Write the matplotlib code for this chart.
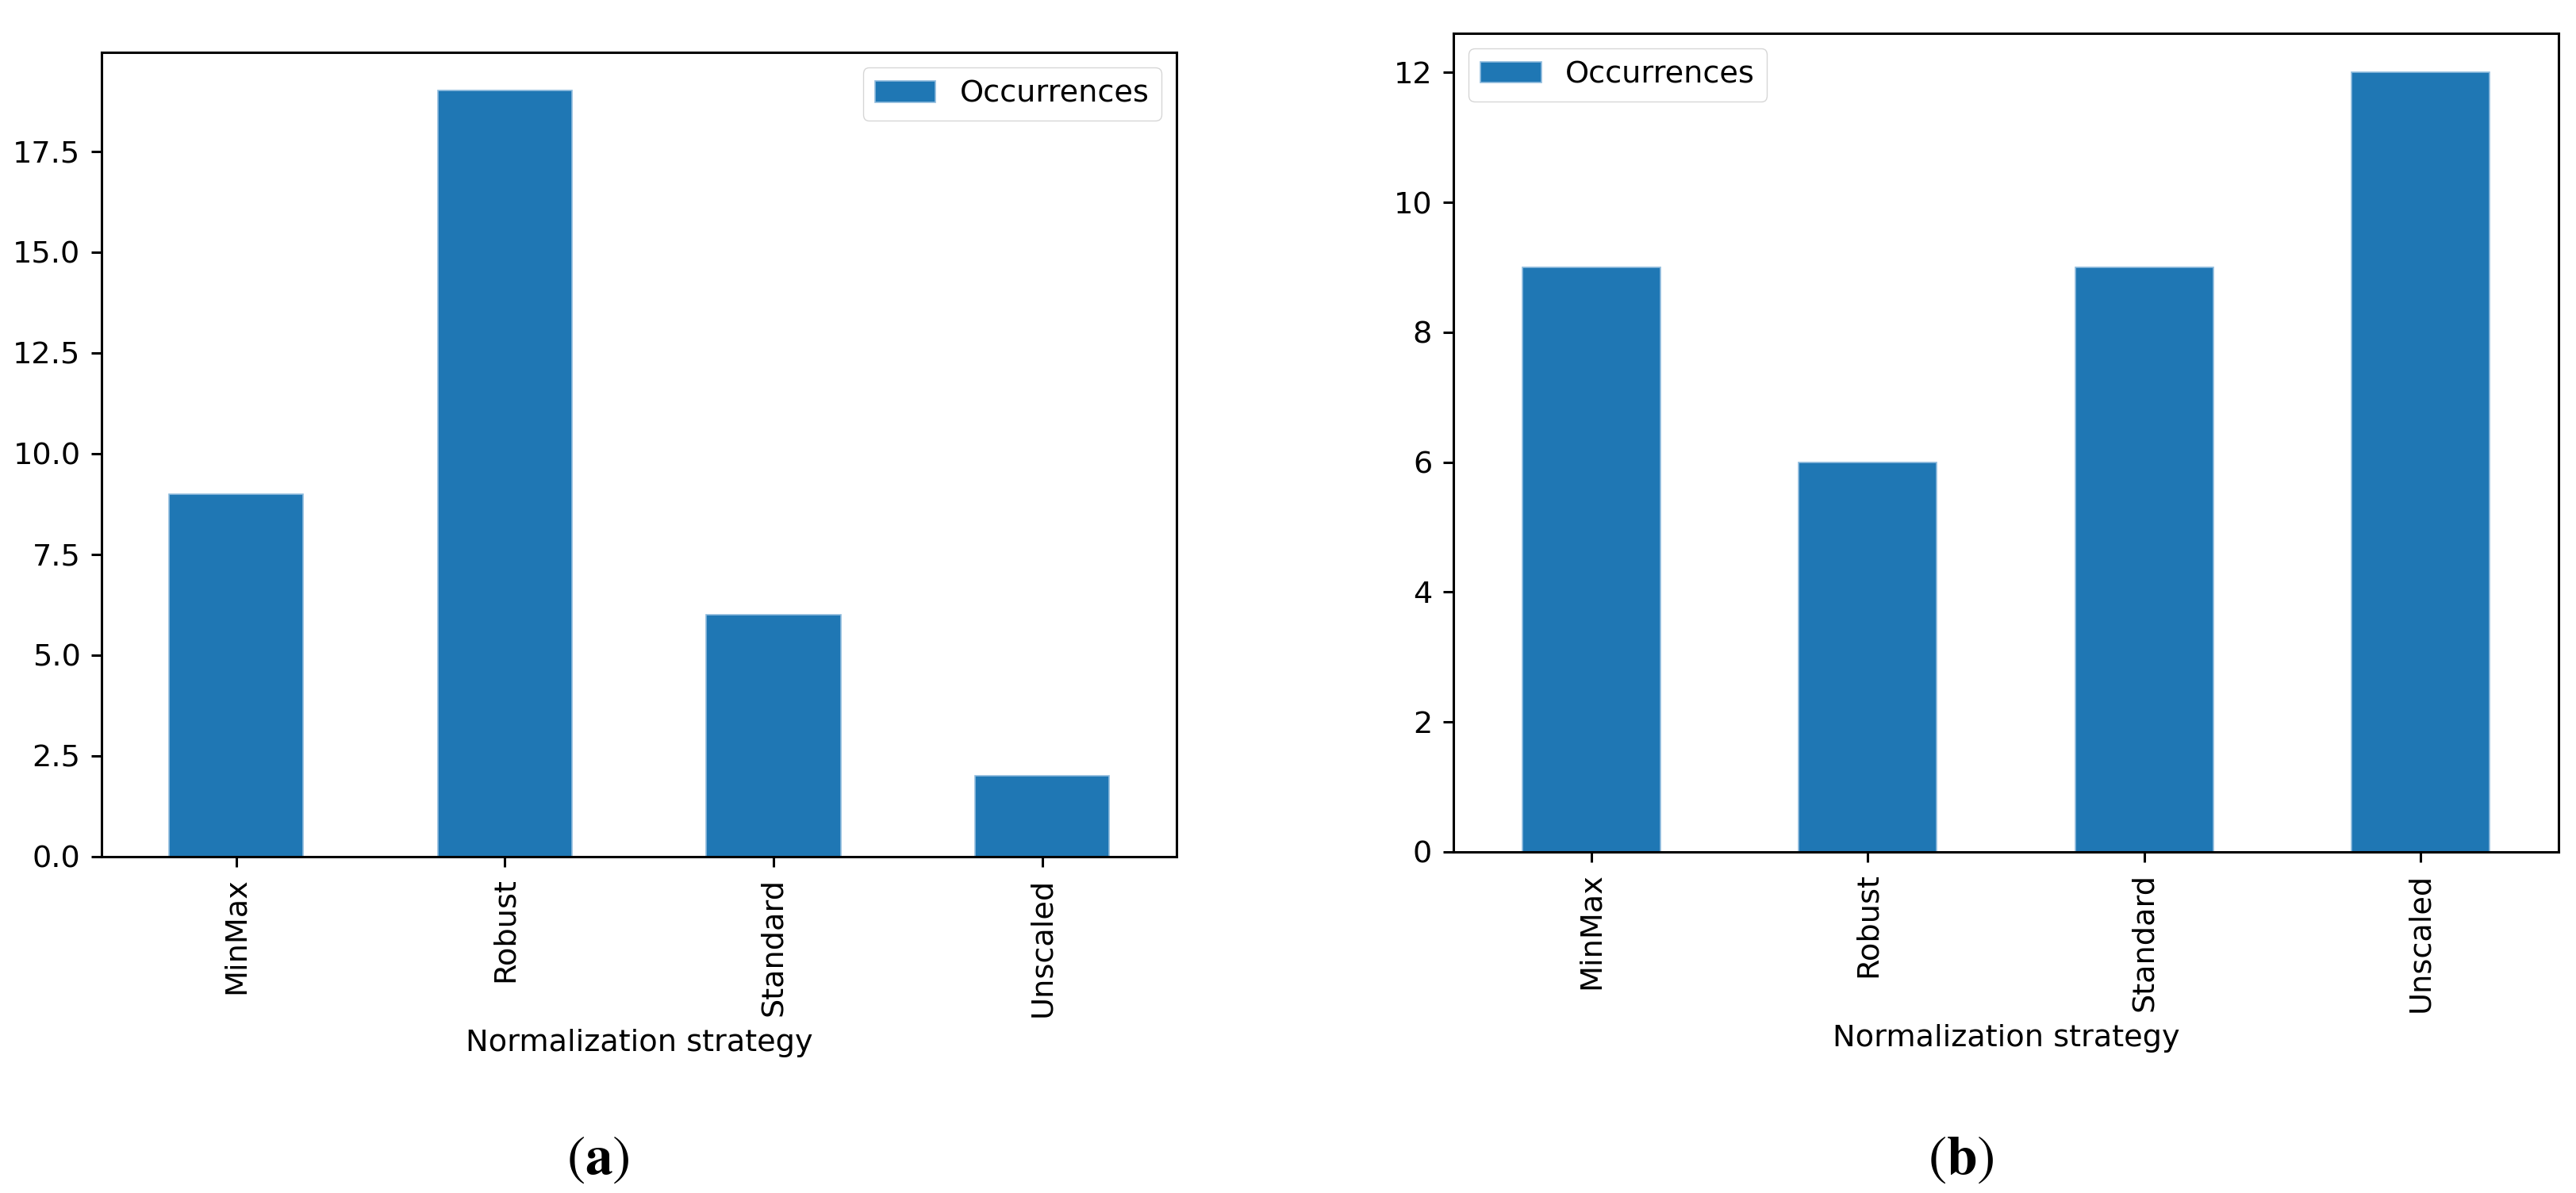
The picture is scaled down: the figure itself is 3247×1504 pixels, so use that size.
import matplotlib
matplotlib.use("Agg")
import matplotlib.pyplot as plt
import numpy as np

strategies = ["MinMax", "Robust", "Standard", "Unscaled"]
occ_a = [9, 19, 6, 2]
occ_b = [9, 6, 9, 12]

s = 2.75  # scale from default matplotlib size
plt.rcParams['font.family'] = ['DejaVu Sans']
plt.rcParams['font.size'] = 10 * s
plt.rcParams['axes.linewidth'] = 0.8 * s
plt.rcParams['xtick.major.width'] = 0.8 * s
plt.rcParams['ytick.major.width'] = 0.8 * s
plt.rcParams['xtick.major.size'] = 3.5 * s
plt.rcParams['ytick.major.size'] = 3.5 * s
plt.rcParams['xtick.major.pad'] = 3.5 * s
plt.rcParams['ytick.major.pad'] = 3.5 * s
plt.rcParams['mathtext.fontset'] = 'stix'

fig = plt.figure(figsize=(32.48, 15.04), dpi=100)
ax1 = fig.add_axes([0.0395, 0.282, 0.4171, 0.674])
ax2 = fig.add_axes([0.564, 0.286, 0.429, 0.686])

def draw(ax, vals, loc):
    x = np.arange(len(strategies))
    ax.bar(x, vals, width=0.5, color="#1f77b4", edgecolor="#8fbbdd",
           linewidth=1.2, label="Occurrences")
    ax.set_xticks(x)
    ax.set_xticklabels(strategies, rotation=90)
    ax.set_xlim(-0.5, len(strategies) - 0.5)
    ax.set_ylim(0, max(vals) * 1.05)
    ax.set_xlabel("Normalization strategy", labelpad=4 * s)
    ax.legend(loc=loc, fancybox=True, framealpha=0.8,
              borderpad=0.4, handlelength=2.0)

draw(ax1, occ_a, "upper right")
draw(ax2, occ_b, "upper left")

fig.text(0.232, 0.006, r"($\mathbf{a}$)", ha="center", va="bottom",
         fontsize=50, family="STIXGeneral")
fig.text(0.761, 0.006, r"($\mathbf{b}$)", ha="center", va="bottom",
         fontsize=50, family="STIXGeneral")

fig.savefig("out.png", dpi=100)
